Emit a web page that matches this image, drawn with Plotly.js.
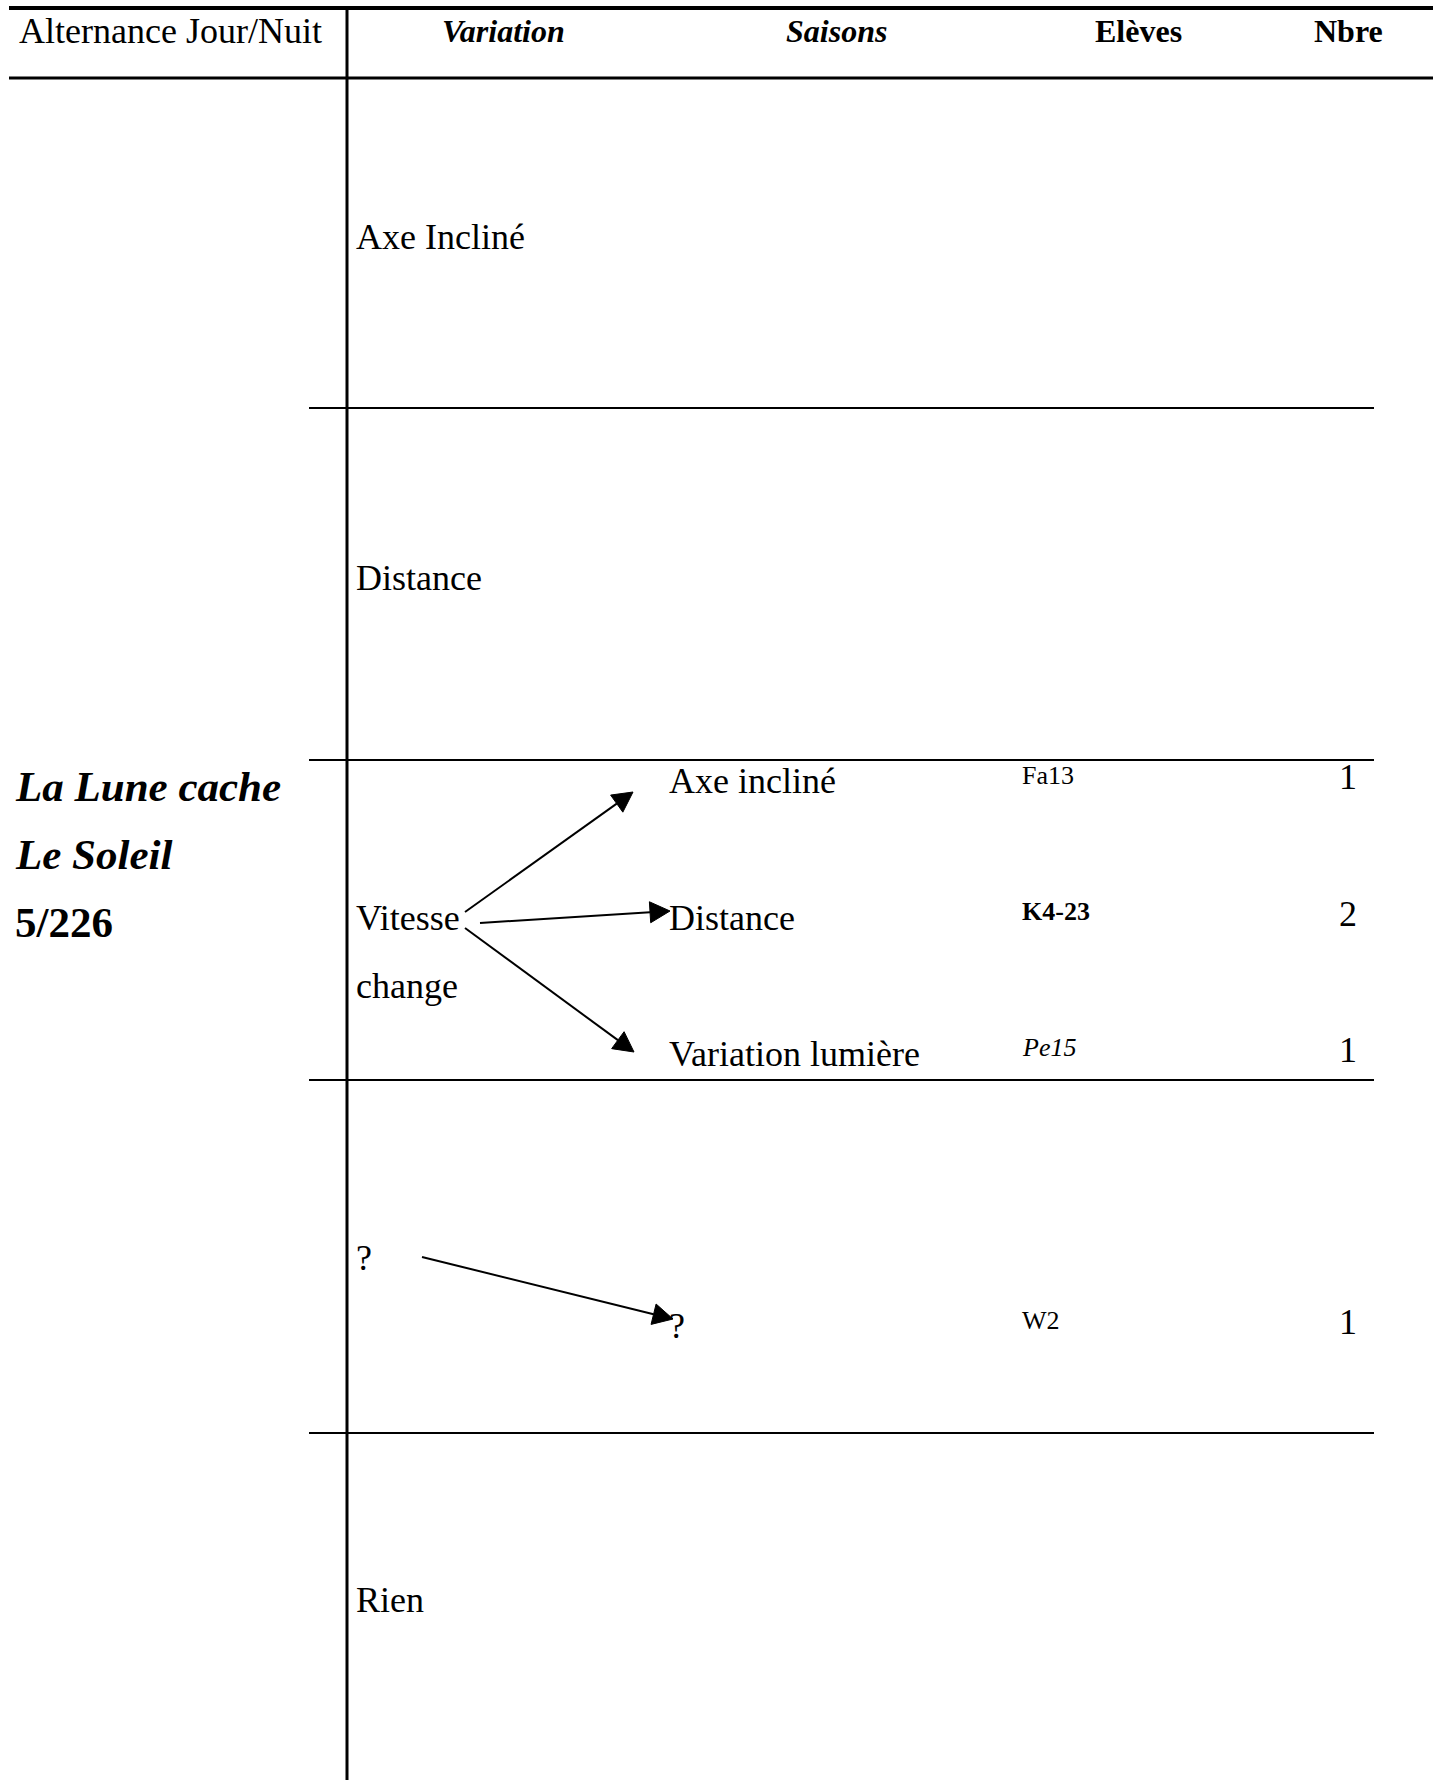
<!DOCTYPE html>
<html><head><meta charset="utf-8">
<script src="https://cdn.plot.ly/plotly-3.0.1.min.js"></script>
<style>html,body{margin:0;padding:0;background:#fff}</style>
</head><body>
<div id="chart" style="width:1440px;height:1780px"></div>
<script>
// ---- data ----
const headers = ['Alternance Jour/Nuit', 'Variation', 'Saisons', 'Elèves', 'Nbre'];
const groupLabel = ['La Lune cache', 'Le Soleil', '5/226'];
const variations = ['Axe Incliné', 'Distance', 'Vitesse', 'change', '?', 'Rien'];
const saisons = ['Axe incliné', 'Distance', 'Variation lumière', '?'];
const eleves = ['Fa13', 'K4-23', 'Pe15', 'W2'];
const nbre = [1, 2, 1, 1];

// ---- layout helpers (positions, pixel coordinates) ----
const FONT = '"Liberation Serif", "Times New Roman", serif';
const headerX = [170, 503, 836, 1138, 1348];
const headerY = 31;
const groupY = [786, 854, 922];
const varY = [237, 578, 918, 986, 1258, 1600];
const saisY = [781, 918, 1054, 1326];
const elevY = [775, 911, 1047, 1320];
const elevStyle = [
  {weight: 'normal', style: 'normal'},
  {weight: 'bold', style: 'normal'},
  {weight: 'normal', style: 'italic'},
  {weight: 'normal', style: 'normal'}
];
const rowLinesY = [408, 760, 1080, 1433];
const arrows = [
  [465, 912, 633, 792],
  [480, 923, 670, 911],
  [465, 928, 634, 1052],
  [422, 1257, 673, 1319]
];

const ann = [];
headers.forEach((h, i) => {
  const isFirst = i === 0;
  ann.push({
    x: headerX[i], y: headerY, xref: 'x', yref: 'y', showarrow: false,
    text: h, xanchor: 'center', yanchor: 'middle',
    font: {family: FONT, size: isFirst ? 36 : 32, color: '#000',
      weight: isFirst ? 'normal' : 'bold',
      style: (i === 1 || i === 2) ? 'italic' : 'normal'}
  });
});
groupLabel.forEach((g, i) => {
  ann.push({
    x: 13, y: groupY[i], xref: 'x', yref: 'y', showarrow: false,
    text: g, xanchor: 'left', yanchor: 'middle',
    font: {family: FONT, size: 43, color: '#000', weight: 'bold',
      style: i < 2 ? 'italic' : 'normal'}
  });
});
variations.forEach((v, i) => {
  ann.push({
    x: 354, y: varY[i], xref: 'x', yref: 'y', showarrow: false,
    text: v, xanchor: 'left', yanchor: 'middle',
    font: {family: FONT, size: 36, color: '#000'}
  });
});
saisons.forEach((s, i) => {
  ann.push({
    x: 667, y: saisY[i], xref: 'x', yref: 'y', showarrow: false,
    text: s, xanchor: 'left', yanchor: 'middle',
    font: {family: FONT, size: 36, color: '#000'}
  });
});
eleves.forEach((e, i) => {
  ann.push({
    x: 1020, y: elevY[i], xref: 'x', yref: 'y', showarrow: false,
    text: e, xanchor: 'left', yanchor: 'middle',
    font: {family: FONT, size: 26, color: '#000',
      weight: elevStyle[i].weight, style: elevStyle[i].style}
  });
});
nbre.forEach((n, i) => {
  ann.push({
    x: 1348, y: saisY[i] - 4, xref: 'x', yref: 'y', showarrow: false,
    text: String(n), xanchor: 'center', yanchor: 'middle',
    font: {family: FONT, size: 36, color: '#000'}
  });
});

const shapes = [];
// top and header lines
shapes.push({type: 'line', xref: 'x', yref: 'y', x0: 9, x1: 1433, y0: 8, y1: 8, line: {color: '#000', width: 4}});
shapes.push({type: 'line', xref: 'x', yref: 'y', x0: 9, x1: 1433, y0: 78, y1: 78, line: {color: '#000', width: 3}});
// vertical divider
shapes.push({type: 'line', xref: 'x', yref: 'y', x0: 347, x1: 347, y0: 8, y1: 1780, line: {color: '#000', width: 3}});
rowLinesY.forEach(y => {
  shapes.push({type: 'line', xref: 'x', yref: 'y', x0: 309, x1: 1374, y0: y, y1: y, line: {color: '#000', width: 2}});
});
// arrows: line + filled triangle head
const HL = 20, HW = 10.5;
arrows.forEach(([x0, y0, x1, y1]) => {
  const dx = x1 - x0, dy = y1 - y0, L = Math.hypot(dx, dy);
  const ux = dx / L, uy = dy / L, nx = -uy, ny = ux;
  const bx = x1 - HL * ux, by = y1 - HL * uy;
  shapes.push({type: 'line', xref: 'x', yref: 'y', x0: x0, y0: y0, x1: bx, y1: by, line: {color: '#000', width: 2}});
  shapes.push({type: 'path', xref: 'x', yref: 'y',
    path: `M${x1},${y1} L${bx + HW * nx},${by + HW * ny} L${bx - HW * nx},${by - HW * ny} Z`,
    fillcolor: '#000', line: {color: '#000', width: 1}});
});

const layout = {
  width: 1440, height: 1780,
  margin: {l: 0, r: 0, t: 0, b: 0},
  paper_bgcolor: '#fff', plot_bgcolor: '#fff',
  showlegend: false,
  xaxis: {range: [0, 1440], visible: false, fixedrange: true},
  yaxis: {range: [1780, 0], visible: false, fixedrange: true},
  annotations: ann,
  shapes: shapes
};
Plotly.newPlot('chart', [{x: [], y: [], type: 'scatter', mode: 'markers'}], layout, {staticPlot: true});
</script>
</body></html>
